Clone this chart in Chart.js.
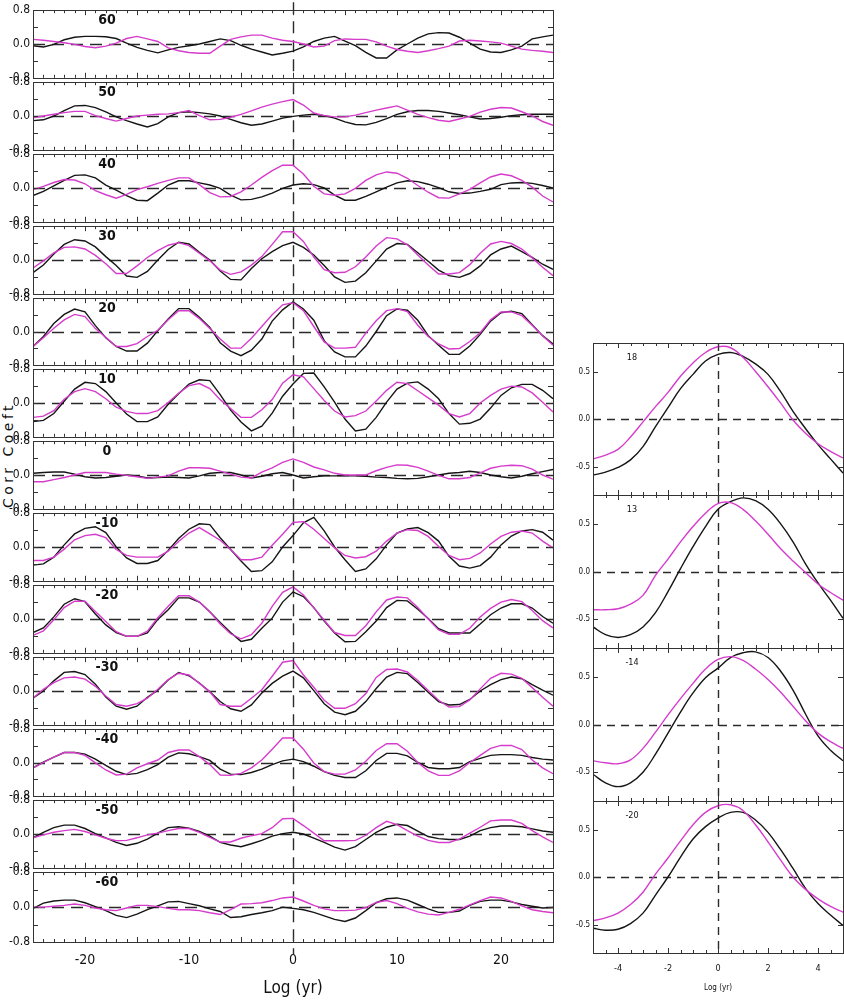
<!DOCTYPE html>
<html>
<head>
<meta charset="utf-8">
<script src="https://cdn.jsdelivr.net/npm/chart.js@4.4.1/dist/chart.umd.min.js"></script>
<style>
  body { margin: 0; background: #fff; width: 844px; height: 1000px; position: relative; overflow: hidden; }
  canvas { position: absolute; }
  #ytitle {
    position: absolute; left: 8px; top: 455px;
    transform: translate(-50%, -50%) rotate(-90deg);
    font: 14px "DejaVu Sans", sans-serif; letter-spacing: 3.5px; white-space: nowrap; color: #111;
  }
</style>
</head>
<body>
<div id="ytitle">Corr Coeft</div>
<script>
// lag axis of the 13 left panels
const lags = [-25,-24,-23,-22,-21,-20,-19,-18,-17,-16,-15,-14,-13,-12,-11,-10,-9,-8,-7,-6,-5,-4,-3,-2,-1,
  0,1,2,3,4,5,6,7,8,9,10,11,12,13,14,15,16,17,18,19,20,21,22,23,24,25];
const leftTicks = [-20, -10, 0, 10, 20];

const leftLabels = ['60','50','40','30','20','10','0','-10','-20','-30','-40','-50','-60'];

// black curves, one per left panel
const blk60 = [-0.04,-0.07,-0.01,0.10,0.16,0.18,0.18,0.17,0.13,0.02, -0.08,-0.15,-0.21,-0.14,-0.08,-0.04,0.00,0.06,0.12,0.08,
  -0.03,-0.12,-0.19,-0.26,-0.22,-0.17,-0.07,0.06,0.14,0.18, 0.07,-0.04,-0.20,-0.33,-0.33,-0.14,0.00,0.14,0.24,0.27,
  0.26,0.16,0.02,-0.12,-0.19,-0.20,-0.14,-0.05,0.12,0.17,0.21];
const blk50 = [-0.11,-0.09,0.00,0.13,0.24,0.25,0.20,0.10,-0.02,-0.11, -0.19,-0.26,-0.18,-0.02,0.08,0.10,0.08,0.05,0.00,-0.08,
  -0.16,-0.22,-0.19,-0.12,-0.05,-0.01,0.02,0.04,0.01,-0.05, -0.14,-0.20,-0.21,-0.15,-0.06,0.04,0.10,0.13,0.13,0.11,
  0.07,0.03,-0.02,-0.07,-0.06,-0.03,0.01,0.03,0.04,0.04,0.04];
const blk40 = [-0.18,-0.08,0.05,0.18,0.30,0.31,0.24,0.07,-0.05,-0.18, -0.29,-0.30,-0.12,0.07,0.17,0.17,0.12,0.07,-0.01,-0.17,
  -0.28,-0.27,-0.21,-0.12,-0.01,0.07,0.10,0.08,0.00,-0.17, -0.29,-0.29,-0.20,-0.09,0.02,0.12,0.17,0.15,0.09,0.01,
  -0.09,-0.13,-0.12,-0.08,-0.03,0.08,0.12,0.13,0.11,0.06,0.00];
const blk30 = [-0.30,-0.12,0.14,0.37,0.48,0.45,0.31,0.08,-0.13,-0.38, -0.41,-0.27,0.00,0.25,0.42,0.38,0.18,0.00,-0.26,-0.46,
  -0.47,-0.20,0.03,0.20,0.34,0.42,0.30,0.12,-0.13,-0.40, -0.53,-0.50,-0.30,-0.02,0.26,0.39,0.37,0.17,-0.03,-0.24,
  -0.37,-0.41,-0.32,-0.14,0.12,0.26,0.33,0.20,0.06,-0.10,-0.22];
const blk20 = [-0.36,-0.12,0.19,0.41,0.54,0.47,0.14,-0.15,-0.36,-0.47, -0.47,-0.28,0.02,0.30,0.55,0.55,0.34,0.10,-0.27,-0.47,
  -0.58,-0.45,-0.18,0.25,0.52,0.71,0.54,0.27,-0.22,-0.49, -0.61,-0.61,-0.35,0.00,0.38,0.54,0.51,0.27,-0.10,-0.33,
  -0.55,-0.55,-0.35,-0.07,0.25,0.45,0.49,0.43,0.16,-0.10,-0.30];
const blk10 = [-0.44,-0.41,-0.25,0.04,0.33,0.49,0.46,0.27,0.00,-0.26, -0.44,-0.44,-0.33,-0.03,0.22,0.45,0.55,0.53,0.20,-0.17,
  -0.45,-0.66,-0.55,-0.24,0.16,0.45,0.70,0.71,0.38,0.02, -0.38,-0.66,-0.62,-0.34,0.02,0.33,0.47,0.50,0.33,0.10,
  -0.25,-0.50,-0.48,-0.38,-0.12,0.18,0.36,0.44,0.44,0.30,0.10];
const blk0 = [0.04,0.06,0.07,0.07,0.02,-0.04,-0.07,-0.06,-0.03,0.00, -0.02,-0.07,-0.06,-0.05,-0.06,-0.07,-0.02,0.04,0.06,0.06,
  0.00,-0.07,-0.03,0.03,0.06,0.00,-0.07,-0.04,-0.02,-0.02, -0.02,-0.02,-0.03,-0.05,-0.06,-0.08,-0.09,-0.08,-0.04,0.00,
  0.04,0.06,0.09,0.06,0.00,-0.04,-0.07,-0.03,0.03,0.08,0.13];
const blkM10 = [-0.43,-0.40,-0.24,0.05,0.31,0.44,0.48,0.34,0.00,-0.26, -0.39,-0.39,-0.32,-0.08,0.20,0.42,0.55,0.53,0.22,-0.06,
  -0.33,-0.58,-0.56,-0.35,0.00,0.27,0.57,0.70,0.38,0.00, -0.30,-0.58,-0.52,-0.28,0.05,0.33,0.43,0.46,0.34,0.14,
  -0.22,-0.45,-0.50,-0.44,-0.24,0.05,0.26,0.38,0.41,0.35,0.16];
const blkM20 = [-0.32,-0.21,0.05,0.35,0.48,0.41,0.12,-0.14,-0.32,-0.41, -0.41,-0.33,-0.01,0.22,0.50,0.50,0.40,0.17,-0.08,-0.32,
  -0.53,-0.48,-0.22,0.02,0.40,0.64,0.53,0.27,-0.05,-0.33, -0.54,-0.53,-0.30,-0.05,0.27,0.44,0.43,0.23,0.01,-0.23,
  -0.33,-0.33,-0.33,-0.12,0.10,0.26,0.36,0.36,0.26,0.06,-0.10];
const blkM30 = [-0.17,0.00,0.24,0.44,0.46,0.39,0.16,-0.14,-0.36,-0.43, -0.36,-0.15,0.02,0.26,0.44,0.36,0.19,-0.02,-0.25,-0.42,
  -0.48,-0.33,-0.05,0.18,0.35,0.47,0.31,0.01,-0.30,-0.50, -0.56,-0.48,-0.25,0.06,0.33,0.44,0.41,0.20,-0.03,-0.25,
  -0.33,-0.32,-0.20,0.00,0.15,0.27,0.33,0.29,0.15,0.02,-0.10];
const blkM40 = [-0.13,0.01,0.13,0.24,0.24,0.20,0.08,-0.07,-0.21,-0.29, -0.26,-0.17,-0.05,0.13,0.23,0.21,0.14,0.05,-0.16,-0.28,
  -0.29,-0.24,-0.16,-0.05,0.04,0.08,0.02,-0.09,-0.22,-0.31, -0.36,-0.36,-0.20,0.05,0.22,0.22,0.16,0.00,-0.12,-0.15,
  -0.15,-0.12,0.02,0.10,0.17,0.19,0.19,0.17,0.12,0.08,0.06];
const blkM50 = [-0.09,0.04,0.15,0.21,0.21,0.13,0.01,-0.09,-0.20,-0.27, -0.22,-0.12,0.02,0.15,0.17,0.14,0.06,-0.05,-0.20,-0.26,
  -0.30,-0.23,-0.15,-0.05,0.01,0.04,0.00,-0.10,-0.20,-0.31, -0.38,-0.30,-0.13,0.04,0.16,0.23,0.20,0.07,-0.06,-0.11,
  -0.13,-0.13,-0.05,0.08,0.15,0.19,0.19,0.17,0.12,0.07,0.04];
const blkM60 = [-0.03,0.09,0.14,0.16,0.16,0.10,0.01,-0.08,-0.19,-0.24, -0.16,-0.06,0.03,0.12,0.13,0.08,0.03,-0.04,-0.10,-0.24,
  -0.22,-0.17,-0.13,-0.08,0.00,-0.03,-0.06,-0.12,-0.20,-0.28, -0.33,-0.25,-0.08,0.10,0.19,0.21,0.16,0.06,-0.04,-0.12,
  -0.12,-0.09,0.04,0.13,0.16,0.16,0.12,0.06,0.02,-0.02,-0.01];

// magenta curves, one per left panel
const mag60 = [0.11,0.09,0.06,0.03,-0.01,-0.06,-0.09,-0.05,0.02,0.13, 0.18,0.12,0.06,-0.09,-0.16,-0.20,-0.22,-0.22,-0.05,0.11,
  0.17,0.21,0.21,0.14,0.09,0.06,0.00,-0.07,-0.05,0.08, 0.12,0.11,0.11,0.05,-0.05,-0.13,-0.17,-0.20,-0.16,-0.11,
  -0.05,0.07,0.09,0.07,0.05,0.02,-0.05,-0.12,-0.15,-0.17,-0.20];
const mag50 = [-0.04,0.00,0.04,0.08,0.11,0.11,0.01,-0.06,-0.12,-0.06, 0.00,0.02,0.04,0.05,0.08,0.13,0.01,-0.09,-0.08,-0.03,
  0.04,0.12,0.21,0.28,0.34,0.39,0.26,0.07,0.01,-0.02, -0.02,0.02,0.08,0.14,0.19,0.24,0.14,0.04,-0.04,-0.10,
  -0.13,-0.07,-0.01,0.09,0.16,0.20,0.19,0.10,0.00,-0.13,-0.22];
const mag40 = [-0.04,0.04,0.13,0.20,0.19,0.10,-0.06,-0.16,-0.24,-0.15, -0.04,0.03,0.11,0.18,0.24,0.24,0.08,-0.11,-0.21,-0.20,
  -0.09,0.07,0.25,0.41,0.54,0.54,0.33,0.04,-0.14,-0.17, -0.14,-0.01,0.18,0.31,0.38,0.35,0.23,0.06,-0.10,-0.23,
  -0.24,-0.14,-0.03,0.12,0.26,0.33,0.29,0.18,0.02,-0.19,-0.33];
const mag30 = [-0.19,-0.02,0.17,0.30,0.31,0.26,0.11,-0.09,-0.32,-0.32, -0.14,0.06,0.22,0.35,0.41,0.34,0.16,-0.02,-0.24,-0.34,
  -0.28,-0.12,0.08,0.37,0.67,0.67,0.44,0.07,-0.23,-0.30, -0.29,-0.16,0.07,0.33,0.53,0.50,0.36,0.12,-0.12,-0.33,
  -0.33,-0.30,-0.11,0.16,0.38,0.44,0.39,0.26,0.05,-0.17,-0.37];
const mag20 = [-0.36,-0.15,0.08,0.28,0.41,0.36,0.07,-0.14,-0.36,-0.36, -0.29,-0.12,0.03,0.28,0.50,0.50,0.31,0.07,-0.18,-0.40,
  -0.40,-0.16,0.12,0.40,0.64,0.69,0.50,0.12,-0.25,-0.40, -0.40,-0.38,-0.04,0.26,0.50,0.55,0.48,0.15,-0.12,-0.30,
  -0.42,-0.41,-0.24,-0.03,0.28,0.47,0.47,0.38,0.15,-0.10,-0.33];
const mag10 = [-0.34,-0.31,-0.18,0.09,0.27,0.34,0.27,0.10,-0.10,-0.20, -0.25,-0.25,-0.18,0.01,0.23,0.41,0.46,0.34,0.08,-0.13,
  -0.34,-0.34,-0.16,0.08,0.47,0.67,0.62,0.34,0.06,-0.19, -0.33,-0.30,-0.19,0.05,0.30,0.49,0.46,0.29,0.12,-0.05,
  -0.25,-0.33,-0.25,0.00,0.18,0.33,0.40,0.38,0.24,0.02,-0.21];
const mag0 = [-0.16,-0.16,-0.11,-0.06,0.00,0.06,0.06,0.06,0.02,-0.01, -0.04,-0.08,-0.05,-0.02,0.09,0.17,0.17,0.16,0.09,0.02,
  -0.05,-0.07,0.07,0.17,0.30,0.38,0.30,0.19,0.12,0.04, 0.00,0.00,0.00,0.10,0.18,0.24,0.23,0.18,0.09,-0.01,
  -0.09,-0.09,-0.06,0.05,0.16,0.21,0.23,0.22,0.14,0.00,-0.10];
const magM10 = [-0.32,-0.32,-0.24,-0.05,0.17,0.27,0.30,0.22,-0.06,-0.20, -0.24,-0.24,-0.24,-0.10,0.13,0.33,0.46,0.31,0.16,-0.06,
  -0.30,-0.30,-0.24,0.04,0.30,0.58,0.60,0.42,0.20,-0.02, -0.20,-0.26,-0.23,-0.10,0.14,0.33,0.41,0.39,0.25,0.01,
  -0.20,-0.30,-0.27,-0.14,0.07,0.25,0.35,0.38,0.33,0.14,-0.02];
const magM20 = [-0.39,-0.28,-0.02,0.27,0.42,0.42,0.18,-0.06,-0.30,-0.41, -0.41,-0.29,0.03,0.30,0.55,0.55,0.40,0.17,-0.12,-0.35,
  -0.47,-0.37,-0.10,0.30,0.63,0.76,0.57,0.27,-0.03,-0.32, -0.39,-0.39,-0.16,0.17,0.45,0.52,0.50,0.27,0.00,-0.26,
  -0.36,-0.36,-0.22,0.05,0.25,0.40,0.46,0.41,0.20,-0.04,-0.21];
const magM30 = [-0.17,0.04,0.20,0.31,0.33,0.28,0.11,-0.12,-0.32,-0.36, -0.30,-0.17,0.04,0.27,0.42,0.38,0.18,-0.02,-0.32,-0.36,
  -0.36,-0.17,0.03,0.35,0.68,0.72,0.38,0.09,-0.22,-0.41, -0.41,-0.30,-0.06,0.32,0.51,0.52,0.45,0.25,0.01,-0.22,
  -0.38,-0.37,-0.21,0.05,0.30,0.42,0.40,0.30,0.08,-0.15,-0.36];
const magM40 = [-0.13,0.00,0.13,0.24,0.24,0.17,-0.01,-0.18,-0.30,-0.28, -0.13,-0.03,0.06,0.24,0.30,0.30,0.14,-0.05,-0.30,-0.31,
  -0.26,-0.13,0.06,0.32,0.59,0.59,0.32,-0.01,-0.22,-0.28, -0.28,-0.18,0.03,0.29,0.45,0.45,0.27,0.00,-0.20,-0.31,
  -0.31,-0.20,0.00,0.17,0.34,0.41,0.41,0.31,0.06,-0.13,-0.27];
const magM50 = [-0.09,-0.02,0.04,0.08,0.11,0.06,-0.02,-0.10,-0.16,-0.15, -0.09,-0.02,0.02,0.08,0.13,0.13,0.04,-0.08,-0.19,-0.19,
  -0.10,-0.04,0.01,0.15,0.36,0.37,0.20,0.02,-0.16,-0.16, -0.16,-0.15,-0.03,0.15,0.30,0.22,0.08,-0.05,-0.15,-0.20,
  -0.20,-0.12,0.02,0.16,0.31,0.33,0.33,0.25,0.08,-0.07,-0.20];
const magM60 = [0.00,0.00,0.02,0.04,0.07,0.04,-0.02,-0.06,-0.08,-0.02, 0.04,0.04,0.01,-0.03,-0.06,-0.06,-0.08,-0.13,-0.17,-0.06,
  0.07,0.08,0.10,0.15,0.21,0.23,0.14,0.04,-0.04,-0.08, -0.08,-0.07,-0.01,0.11,0.15,0.08,-0.03,-0.11,-0.16,-0.18,
  -0.12,-0.05,0.05,0.15,0.23,0.21,0.13,0.03,-0.06,-0.10,-0.13];

// right hand zoom panels
const lagsR = [-5,-4.5,-4,-3.5,-3,-2.5,-2,-1.5,-1,-0.5,0,0.5,1,1.5,2,2.5,3,3.5,4,4.5,5];
const rightTicks = [-4, -2, 0, 2, 4];
const rightLabels = ['18','13','-14','-20'];

const blkR18  = [-0.59,-0.56,-0.51,-0.43,-0.29,-0.08,0.12,0.32,0.47,0.61,0.68,0.70,0.66,0.58,0.47,0.29,0.08,-0.10,-0.27,-0.42,-0.57];
const blkR13  = [-0.58,-0.66,-0.69,-0.66,-0.58,-0.43,-0.21,0.03,0.26,0.47,0.65,0.73,0.77,0.74,0.65,0.50,0.31,0.08,-0.12,-0.30,-0.49];
const blkRm14 = [-0.52,-0.61,-0.65,-0.61,-0.50,-0.31,-0.09,0.13,0.33,0.49,0.59,0.70,0.75,0.76,0.70,0.56,0.36,0.11,-0.12,-0.27,-0.38];
const blkRm20 = [-0.54,-0.56,-0.55,-0.49,-0.38,-0.19,0.00,0.21,0.40,0.53,0.62,0.68,0.68,0.60,0.47,0.29,0.09,-0.12,-0.28,-0.40,-0.51];

const magR18  = [-0.42,-0.38,-0.32,-0.19,-0.03,0.13,0.28,0.45,0.59,0.70,0.76,0.75,0.65,0.50,0.34,0.17,-0.01,-0.15,-0.26,-0.34,-0.41];
const magR13  = [-0.40,-0.40,-0.39,-0.34,-0.25,-0.04,0.13,0.31,0.47,0.61,0.71,0.72,0.65,0.53,0.39,0.24,0.11,-0.01,-0.13,-0.22,-0.30];
const magRm14 = [-0.38,-0.40,-0.41,-0.37,-0.25,-0.08,0.10,0.27,0.43,0.58,0.68,0.71,0.67,0.58,0.47,0.34,0.19,0.04,-0.09,-0.18,-0.25];
const magRm20 = [-0.46,-0.43,-0.38,-0.29,-0.16,0.03,0.20,0.38,0.55,0.68,0.75,0.76,0.70,0.55,0.37,0.18,0.00,-0.13,-0.23,-0.31,-0.37];

const leftBlack = [blk60, blk50, blk40, blk30, blk20, blk10, blk0, blkM10, blkM20, blkM30, blkM40, blkM50, blkM60];
const leftMag = [mag60, mag50, mag40, mag30, mag20, mag10, mag0, magM10, magM20, magM30, magM40, magM50, magM60];
const rightBlack = [blkR18, blkR13, blkRm14, blkRm20];
const rightMag = [magR18, magR13, magRm14, magRm20];

const BLACK = '#151515';
const MAGENTA = '#d63ccc';
const NARROW = '"Liberation Sans Narrow", "DejaVu Sans Condensed", sans-serif';

// frame, dashed zero lines and panel number
const decor = {
  id: 'decor',
  beforeDatasetsDraw(chart, args, o) {
    const { ctx, chartArea: a, scales: { x, y } } = chart;
    ctx.save();
    ctx.strokeStyle = '#2a2a2a';
    ctx.lineWidth = 1.4;
    ctx.setLineDash(o.dash);
    const y0 = Math.round(y.getPixelForValue(0)) + 0.5;
    ctx.beginPath(); ctx.moveTo(a.left, y0); ctx.lineTo(a.right, y0); ctx.stroke();
    const x0 = Math.round(x.getPixelForValue(0)) + 0.5;
    ctx.beginPath(); ctx.moveTo(x0, a.top - o.upTop); ctx.lineTo(x0, a.bottom + o.downBottom); ctx.stroke();
    ctx.restore();
  },
  afterDatasetsDraw(chart, args, o) {
    const { ctx, chartArea: a, scales: { x, y } } = chart;
    ctx.save();
    ctx.strokeStyle = '#333';
    ctx.lineWidth = 1;
    ctx.strokeRect(Math.round(a.left) + 0.5, Math.round(a.top) + 0.5,
      Math.round(a.right - a.left), Math.round(a.bottom - a.top));
    // inner tick marks
    ctx.beginPath();
    for (let v = x.min; v <= x.max + 1e-6; v += o.minor) {
      const px = Math.round(x.getPixelForValue(v)) + 0.5;
      const len = Math.abs(v / o.major - Math.round(v / o.major)) < 1e-6 ? 5 : 3;
      ctx.moveTo(px, a.top); ctx.lineTo(px, a.top + len);
      ctx.moveTo(px, a.bottom); ctx.lineTo(px, a.bottom - len);
    }
    for (const v of o.yTicks) {
      const py = Math.round(y.getPixelForValue(v)) + 0.5;
      ctx.moveTo(a.left, py); ctx.lineTo(a.left + 5, py);
      ctx.moveTo(a.right, py); ctx.lineTo(a.right - 5, py);
    }
    ctx.stroke();
    ctx.fillStyle = '#111';
    ctx.font = o.labelFont;
    ctx.textAlign = 'center';
    ctx.textBaseline = 'middle';
    ctx.fillText(o.label, a.left + o.labelDx, a.top + o.labelDy);
    ctx.restore();
  }
};

function addCanvas(left, top, w, h) {
  const cv = document.createElement('canvas');
  cv.width = w; cv.height = h;
  cv.style.left = left + 'px'; cv.style.top = top + 'px';
  cv.style.width = w + 'px'; cv.style.height = h + 'px';
  document.body.appendChild(cv);
  return cv;
}

function makePanel(p) {
  const cv = addCanvas(p.left, p.top, p.w, p.h);
  const series = (vals) => p.xs.map((xv, i) => ({ x: xv, y: vals[i] }));
  return new Chart(cv, {
    type: 'line',
    data: {
      datasets: [
        { data: series(p.mag), borderColor: MAGENTA, borderWidth: 1.4, tension: p.tension, pointRadius: 0 },
        { data: series(p.black), borderColor: BLACK, borderWidth: 1.4, tension: p.tension, pointRadius: 0 }
      ]
    },
    options: {
      responsive: false,
      animation: false,
      devicePixelRatio: 1,
      layout: { padding: { left: 0, right: p.padRight, top: 8, bottom: p.bottomAxis ? 0 : 8 } },
      plugins: {
        legend: { display: false },
        tooltip: { enabled: false },
        decor: p.decor
      },
      scales: {
        x: {
          type: 'linear', min: p.xMin, max: p.xMax,
          display: p.bottomAxis,
          grid: { display: false, drawTicks: false },
          border: { display: false },
          afterBuildTicks: (s) => { s.ticks = p.xTicks.map((v) => ({ value: v })); },
          ticks: { padding: p.xTickPad, color: '#111', font: { family: NARROW, size: p.xTickSize },
            callback: (v) => String(v) },
          title: { display: true, text: 'Log (yr)', color: '#111', font: { family: NARROW, size: p.xTitleSize },
            padding: { top: 0, bottom: p.xTitlePad } },
          afterFit: (s) => { s.height = p.bottomAxis ? p.xAxisH : 0; }
        },
        y: {
          min: -0.8, max: 0.8,
          afterBuildTicks: (s) => { s.ticks = p.yLabels.map((v) => ({ value: v })); },
          afterFit: (s) => { s.width = 33; },
          grid: { display: false, drawTicks: false },
          border: { display: false },
          ticks: { padding: 3, color: '#111', font: { family: NARROW, size: p.yTickSize },
            callback: (v) => Number(v).toFixed(1) }
        }
      }
    },
    plugins: [decor]
  });
}

// left column: 13 stacked panels
const leftTops = [8, 80, 152, 224, 296, 367, 439, 511, 583, 655, 727, 798, 870, 942];
leftLabels.forEach((lab, i) => {
  const top = leftTops[i], bottom = leftTops[i + 1];
  const last = i === leftLabels.length - 1;
  makePanel({
    left: 0, top: top - 8, w: 560, h: last ? 1000 - (top - 8) : bottom - top + 16,
    padRight: 7, xs: lags, black: leftBlack[i], mag: leftMag[i], tension: 0,
    xMin: -25, xMax: 25, xTicks: leftTicks, bottomAxis: last, xAxisH: 58, xTickPad: 10, xTickSize: 14,
    xTitleSize: 17, xTitlePad: 1, yLabels: [-0.8, 0, 0.8], yTickSize: 12,
    decor: { label: lab, labelDx: 74, labelDy: 10, labelFont: 'bold 14px ' + NARROW, dash: [12, 7],
      upTop: i === 0 ? 8 : 0, downBottom: last ? 12 : 0, minor: 1, major: 5, yTicks: [-0.4, 0, 0.4] }
  });
});

// right column: 4 zoomed panels
const rightTops = [343, 495, 648, 801, 953];
rightLabels.forEach((lab, i) => {
  const top = rightTops[i], bottom = rightTops[i + 1];
  const last = i === rightLabels.length - 1;
  makePanel({
    left: 560, top: top - 8, w: 284, h: last ? 1000 - (top - 8) : bottom - top + 16,
    padRight: 1, xs: lagsR, black: rightBlack[i], mag: rightMag[i], tension: 0.4,
    xMin: -5, xMax: 5, xTicks: rightTicks, bottomAxis: last, xAxisH: 47, xTickPad: 10, xTickSize: 9,
    xTitleSize: 8, xTitlePad: 7, yLabels: [-0.5, 0, 0.5], yTickSize: 8,
    decor: { label: lab, labelDx: 39, labelDy: 15, labelFont: '9px ' + NARROW, dash: [8, 6],
      upTop: 0, downBottom: 0, minor: 0.5, major: 2, yTicks: [-0.5, 0, 0.5] }
  });
});
</script>
</body>
</html>
